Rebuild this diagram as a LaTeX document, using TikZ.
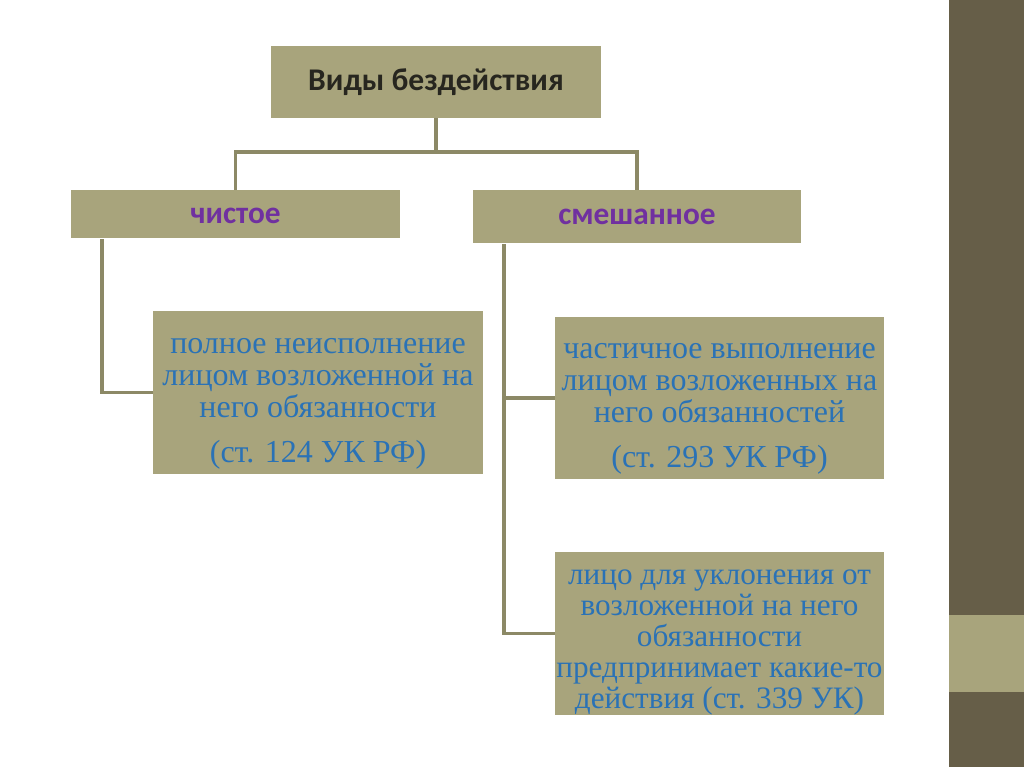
\documentclass[tikz,border=0pt]{standalone}
\usepackage{fontspec}
\setmainfont{Liberation Serif}
\newfontfamily\headfont{Carlito}
\usepackage{tikz}
\usetikzlibrary{positioning}

\definecolor{khaki}{HTML}{A8A47C}
\definecolor{olive}{HTML}{665E48}
\definecolor{wire}{HTML}{8C8966}
\definecolor{ink}{HTML}{27261F}
\definecolor{violet}{HTML}{7030A0}
\definecolor{rfblue}{HTML}{2A72B6}

\pgfdeclareradialshading{vignette}{\pgfpoint{0bp}{0bp}}{color(0bp)=(white); color(36bp)=(white); color(72bp)=(black!14)}

% pushes a text block a little down in its box
\newcommand{\lowstrut}{\rule{0pt}{28pt}}

\begin{document}
\begin{tikzpicture}
    [
    x=0.75pt, y=-0.75pt,
    box/.style={fill=khaki, inner sep=0pt, align=center},
    head/.style={box, font=\headfont\bfseries\fontsize{23.7}{28}\selectfont, text=ink},
    kind/.style={box, font=\headfont\bfseries\fontsize{23.5}{28}\selectfont, text=violet},
    note/.style={box, font=\fontsize{24}{24}\selectfont, text=rfblue},
    link/.style={draw=wire, line width=2.3pt},
    ]
    % background and side strip
    \useasboundingbox (0,0) rectangle (1024,767);
    \shade [shading=vignette] (0,0) rectangle (949,767);
    \fill [olive] (949,0) rectangle (1024,767);
    \fill [khaki] (949,615) rectangle (1024,692);

    \node (top) at (436,82) [head, minimum width=247.5pt, minimum height=54pt] {Виды бездействия};
    \node (pure) at (235.5,214) [kind, minimum width=246.75pt, minimum height=36pt] {\rule{0pt}{15pt}чистое};
    \node (mixed) at (637,216.5) [kind, minimum width=246pt, minimum height=39.75pt] {смешанное};

    \node (full) at (318,392.5) [note, minimum width=247.5pt, minimum height=122.25pt]
        {\lowstrut полное неисполнение\\лицом возложенной на\\него обязанности\\[10pt](ст. 124 УК РФ)};
    \node (part) at (719.5,398) [note, minimum width=246.75pt, minimum height=121.5pt]
        {\lowstrut частичное выполнение\\лицом возложенных на\\него обязанностей\\[10pt](ст. 293 УК РФ)};
    \node (evade) at (719.5,633.5) [note, font=\fontsize{23.4}{23.2}\selectfont, minimum width=246.75pt, minimum height=122.25pt]
        {\rule{0pt}{24pt}лицо для уклонения от\\возложенной на него\\обязанности\\предпринимает какие-то\\действия (ст. 339 УК)};

    \coordinate (hub) at (436,152);
    \coordinate (pleg) at (102,239);
    \coordinate (mleg) at (504,244);

    \draw [link] (top.south) to (hub);
    \draw [link] (pure.north) |- (hub) -| (mixed.north);
    \draw [link] (pleg) |- (full.west);
    \draw [link] (mleg) |- (part.west);
    \draw [link] (mleg) |- (evade.west);
  \end{tikzpicture}
\end{document}
